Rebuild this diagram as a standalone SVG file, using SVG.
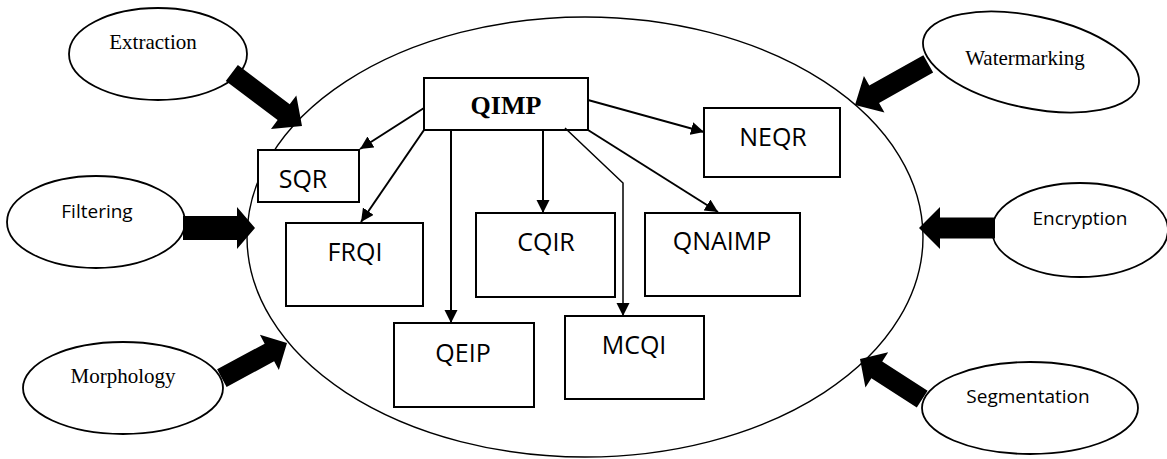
<svg xmlns="http://www.w3.org/2000/svg" width="1167" height="459" viewBox="0 0 1167 459">
<defs>
<style>
.bg{fill:#fff}
.oval{fill:#fff;stroke:#000;stroke-width:1.8}
.big{fill:none;stroke:#000;stroke-width:1.4}
.box{fill:#fff;stroke:#000;stroke-width:2}
.serif{font-family:"Liberation Serif","Times New Roman",serif;font-size:21px;fill:#000;text-anchor:middle}
.sans{font-family:"Open Sans","Liberation Sans",sans-serif;font-size:19px;fill:#000;text-anchor:middle}
.lbl{font-family:"Open Sans","Liberation Sans",sans-serif;font-size:25px;fill:#000;text-anchor:middle}
.title{font-family:"Liberation Serif","Times New Roman",serif;font-size:26px;font-weight:bold;fill:#000;text-anchor:middle}
.conn{fill:none;stroke:#000;stroke-width:2}
.thin{fill:none;stroke:#000;stroke-width:1.5}
.block{fill:#000;stroke:none}
</style>
<marker id="ah" markerUnits="userSpaceOnUse" markerWidth="14" markerHeight="14" refX="13" refY="6.5" orient="auto">
<path d="M0,0 L13,6.5 L0,13 z" fill="#000"/>
</marker>
</defs>
<rect class="bg" x="0" y="0" width="1167" height="459"/>

<g id="system">
<ellipse class="big" cx="585" cy="237" rx="338" ry="220"/>
</g>

<g id="extraction">
<ellipse class="oval" cx="158" cy="54" rx="89" ry="46"/>
<text class="serif" x="153" y="49">Extraction</text>
</g>
<g id="filtering">
<ellipse class="oval" cx="96" cy="222" rx="89" ry="46"/>
<text class="sans" x="97" y="218">Filtering</text>
</g>
<g id="morphology">
<ellipse class="oval" cx="123" cy="388" rx="100" ry="46"/>
<text class="serif" x="123" y="383">Morphology</text>
</g>
<g id="watermarking">
<ellipse class="oval" cx="1031" cy="62" rx="110" ry="46" transform="rotate(12 1031 62)"/>
<text class="serif" x="1025" y="65">Watermarking</text>
</g>
<g id="encryption">
<ellipse class="oval" cx="1080" cy="230" rx="88" ry="47"/>
<text class="sans" x="1080" y="225">Encryption</text>
</g>
<g id="segmentation">
<ellipse class="oval" cx="1030" cy="408" rx="108" ry="46"/>
<text class="sans" x="1028" y="403">Segmentation</text>
</g>

<g id="qimp">
<rect class="box" x="424" y="78" width="164" height="52"/>
<text class="title" x="506" y="114">QIMP</text>
</g>
<g id="sqr">
<rect class="box" x="258" y="150" width="101" height="52"/>
<text class="lbl" x="303" y="188">SQR</text>
</g>
<g id="frqi">
<rect class="box" x="286" y="223" width="137" height="83"/>
<text class="lbl" x="355" y="261">FRQI</text>
</g>
<g id="qeip">
<rect class="box" x="394" y="323" width="140" height="84"/>
<text class="lbl" x="463" y="362">QEIP</text>
</g>
<g id="cqir">
<rect class="box" x="476" y="213" width="139" height="84"/>
<text class="lbl" x="546" y="251">CQIR</text>
</g>
<g id="mcqi">
<rect class="box" x="565" y="316" width="139" height="83"/>
<text class="lbl" x="634" y="354">MCQI</text>
</g>
<g id="qnaimp">
<rect class="box" x="645" y="213" width="155" height="83"/>
<text class="lbl" x="722" y="250">QNAIMP</text>
</g>
<g id="neqr">
<rect class="box" x="704" y="108" width="136" height="69"/>
<text class="lbl" x="773" y="146">NEQR</text>
</g>

<g id="connectors">
<line class="conn" x1="424" y1="108" x2="360" y2="149" marker-end="url(#ah)"/>
<line class="conn" x1="424" y1="130" x2="361" y2="222" marker-end="url(#ah)"/>
<line class="conn" x1="451" y1="130" x2="451" y2="323" marker-end="url(#ah)"/>
<line class="conn" x1="543" y1="130" x2="543" y2="213" marker-end="url(#ah)"/>
<polyline class="thin" points="565,128 623,183 623,316" marker-end="url(#ah)"/>
<line class="conn" x1="588" y1="130" x2="718" y2="212" marker-end="url(#ah)"/>
<line class="conn" x1="588" y1="100" x2="704" y2="132" marker-end="url(#ah)"/>

<polygon class="block" transform="translate(302,126) rotate(37.1)" points="-88,-10 -23,-10 -23,-21 0,0 -23,21 -23,10 -88,10"/>
<polygon class="block" transform="translate(255,228)" points="-72,-12 -18,-12 -18,-21 0,0 -18,21 -18,12 -72,12"/>
<polygon class="block" transform="translate(287,343) rotate(-28.3)" points="-74,-10 -20,-10 -20,-20 0,0 -20,20 -20,10 -74,10"/>
<polygon class="block" transform="translate(855,105) rotate(150.7)" points="-84,-10 -22,-10 -22,-21 0,0 -22,21 -22,10 -84,10"/>
<polygon class="block" transform="translate(919,228) rotate(180)" points="-76,-10.5 -21,-10.5 -21,-21 0,0 -21,21 -21,10.5 -76,10.5"/>
<polygon class="block" transform="translate(860,359) rotate(-147.2)" points="-74,-10 -20,-10 -20,-21 0,0 -20,21 -20,10 -74,10"/>
</g>
</svg>
